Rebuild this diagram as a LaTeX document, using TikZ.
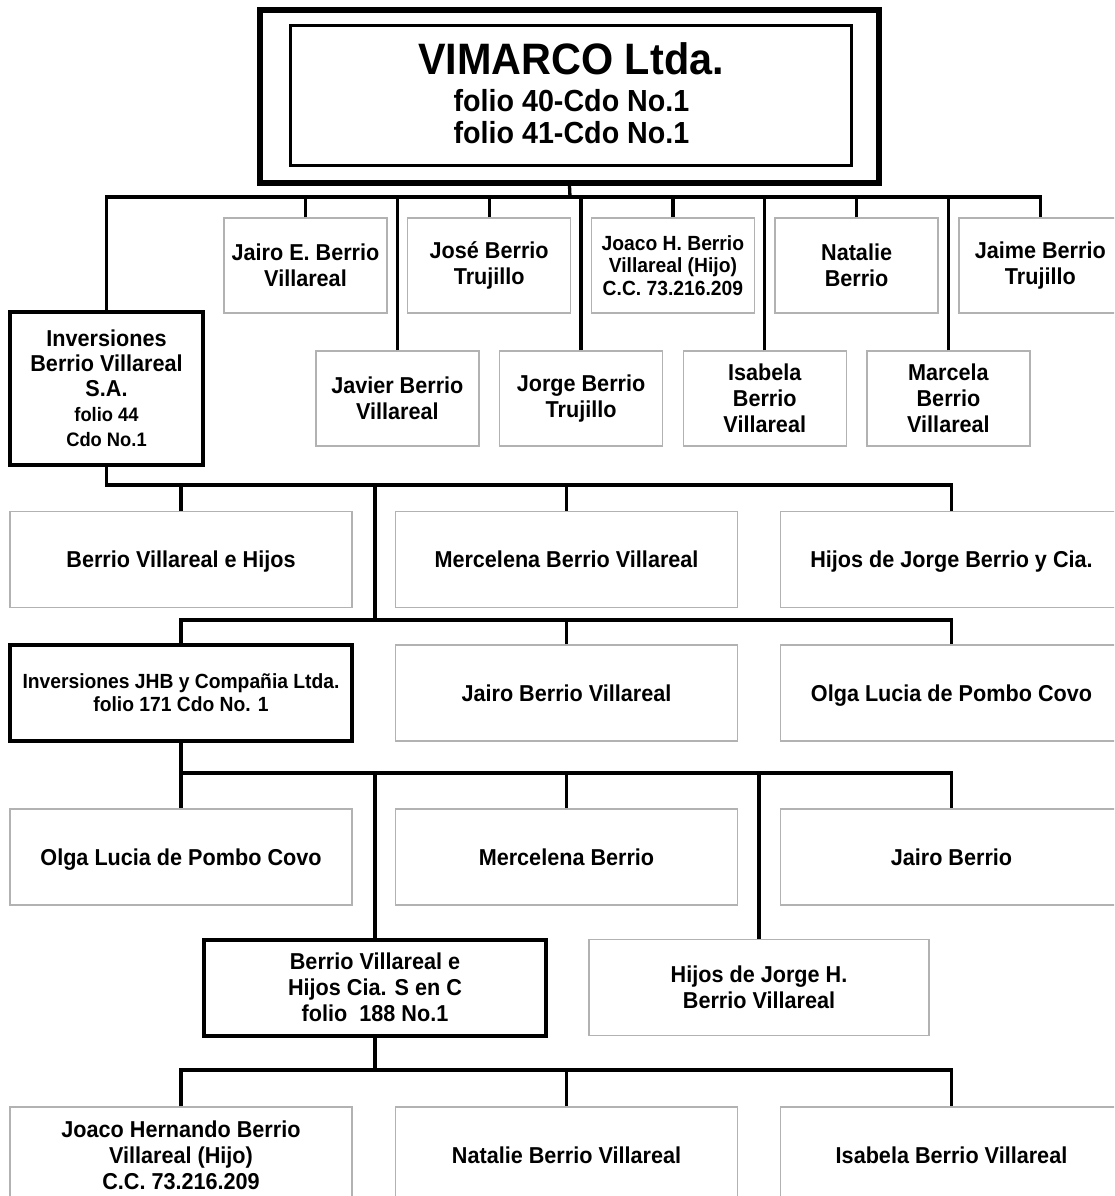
\documentclass[tikz,border=0pt]{standalone}
\usepackage{fontspec}
\setmainfont{Liberation Sans}[FakeStretch=0.94]
\newcommand\mfont{\bfseries\fontsize{23}{26}\selectfont}
\newcommand\sfont{\bfseries\fontsize{20.5}{22.5}\selectfont}
\newcommand\ffont{\fontsize{19.5}{23}\selectfont}
\tikzset{
  thinbox/.style={draw=black!30, line width=1.5pt, fill=white, inner sep=0pt, align=center, font=\mfont},
  thickbox/.style={draw=black, line width=4pt, fill=white, inner sep=0pt, align=center, font=\mfont},
  smallbox/.style={minimum width=163pt, minimum height=95pt},
  widebox/.style={minimum width=342pt, minimum height=96pt},
  oneline/.style={text height=16.5pt, text depth=0pt},
  conn/.style={draw=black, line width=3.3pt, line join=miter},
  ttl/.style={anchor=base, font=\bfseries\fontsize{44}{48}\selectfont},
  sub/.style={anchor=base, font=\bfseries\fontsize{30.5}{34}\selectfont}
}
\begin{document}
\begin{tikzpicture}[x=1pt,y=-1pt]
\useasboundingbox (0,0) rectangle (1114,1196);
\clip (0,0) rectangle (1114,1196);
\fill[white] (0,0) rectangle (1114,1196);

% top box
\node[draw=black, line width=5.5pt, minimum width=619pt, minimum height=173pt, inner sep=0pt] (vimarco) at (569.5,96.5) {};
\node[draw=black, line width=3pt, minimum width=561pt, minimum height=139pt, inner sep=0pt] (vimarcoIn) at (570.5,95.5) {};
\node[ttl] (vt1) at (571,75) {VIMARCO Ltda.};
\node[sub] (vt2) at (571.5,112) {folio 40-Cdo No.1};
\node[sub] (vt3) at (571.5,143) {folio 41-Cdo No.1};

% first level
\coordinate (bus1) at (570,197);
\node[thickbox, minimum width=193pt, minimum height=153pt, font=\bfseries\fontsize{23}{25}\selectfont] (inv) at (106.5,388.5)
  {Inversiones\\Berrio Villareal\\S.A.\\{\ffont folio 44}\\{\ffont Cdo No.1}};
\node[thinbox, smallbox] (jairoE) at (305.5,265.5) {Jairo E. Berrio\\Villareal};
\node[thinbox, smallbox] (javier) at (397.35,398.5) {Javier Berrio\\Villareal};
\node[thinbox, smallbox] (jose) at (489.2,265.5) {José Berrio\\Trujillo};
\node[thinbox, smallbox] (jorge) at (581.05,398.5) {Jorge Berrio\\Trujillo};
\node[thinbox, smallbox, font=\sfont] (joacoH) at (672.9,265.5) {Joaco H. Berrio\\Villareal (Hijo)\\C.C. 73.216.209};
\node[thinbox, smallbox] (isabela) at (764.75,398.5) {Isabela\\Berrio\\Villareal};
\node[thinbox, smallbox] (natalie) at (856.6,265.5) {Natalie\\Berrio};
\node[thinbox, smallbox] (marcela) at (948.45,398.5) {Marcela\\Berrio\\Villareal};
\node[thinbox, smallbox] (jaime) at (1040.3,265.5) {Jaime Berrio\\Trujillo};

\draw[conn] (vimarco.south) -- (bus1);
\draw[conn] (inv.north) |- (bus1) -| (jaime.north);
\foreach \n in {jairoE,javier,jose,jorge,joacoH,isabela,natalie,marcela}
  \draw[conn] (\n.north) -- (\n.north |- bus1);

% second level
\coordinate (bus2) at (375,485);
\coordinate (bus3) at (375,620);
\node[thinbox, widebox, oneline] (bvh) at (181,559.5) {Berrio Villareal e Hijos};
\node[thinbox, widebox, oneline] (mercBV) at (566.5,559.5) {Mercelena Berrio Villareal};
\node[thinbox, widebox, oneline] (hijosJC) at (951.5,559.5) {Hijos de Jorge Berrio y Cia.};
\draw[conn] (inv.south) |- (bus2) -| (hijosJC.north);
\draw[conn] (bvh.north) -- (bvh.north |- bus2);
\draw[conn] (mercBV.north) -- (mercBV.north |- bus2);
\draw[conn] (bus2) -- (bus3);

\node[thickbox, widebox, font=\bfseries\fontsize{20.5}{23}\selectfont] (jhb) at (181,693) {Inversiones JHB y Compañia Ltda.\\folio 171 Cdo No. 1};
\node[thinbox, widebox, oneline] (jairoBV) at (566.5,693) {Jairo Berrio Villareal};
\node[thinbox, widebox, oneline] (olga1) at (951.5,693) {Olga Lucia de Pombo Covo};
\draw[conn] (jhb.north) |- (bus3) -| (olga1.north);
\draw[conn] (jairoBV.north) -- (jairoBV.north |- bus3);

% third level
\coordinate (bus4) at (375,773);
\node[thinbox, widebox, oneline] (olga2) at (181,857) {Olga Lucia de Pombo Covo};
\node[thinbox, widebox, oneline] (mercB) at (566.5,857) {Mercelena Berrio};
\node[thinbox, widebox, oneline] (jairoB) at (951.5,857) {Jairo Berrio};
\node[thickbox, widebox] (bvhCia) at (375,987.5) {Berrio Villareal e\\Hijos Cia. S en C\\folio\ \ 188 No.1};
\node[thinbox, widebox, minimum width=340pt] (hijosJH) at (759,987.5) {Hijos de Jorge H.\\Berrio Villareal};
\draw[conn] (jhb.south) -- (olga2.north);
\draw[conn] (olga2.north |- bus4) -| (jairoB.north);
\draw[conn] (mercB.north) -- (mercB.north |- bus4);
\draw[conn] (bus4) -- (bvhCia.north);
\draw[conn] (hijosJH.north) -- (hijosJH.north |- bus4);

% fourth level
\coordinate (bus5) at (375,1070);
\node[thinbox, widebox] (joacoHB) at (181,1155) {Joaco Hernando Berrio\\Villareal (Hijo)\\C.C. 73.216.209};
\node[thinbox, widebox, oneline] (natalieBV) at (566.5,1155) {Natalie Berrio Villareal};
\node[thinbox, widebox, oneline] (isabelaBV) at (951.5,1155) {Isabela Berrio Villareal};
\draw[conn] (bvhCia.south) -- (bus5);
\draw[conn] (joacoHB.north) |- (bus5) -| (isabelaBV.north);
\draw[conn] (natalieBV.north) -- (natalieBV.north |- bus5);
\end{tikzpicture}
\end{document}
